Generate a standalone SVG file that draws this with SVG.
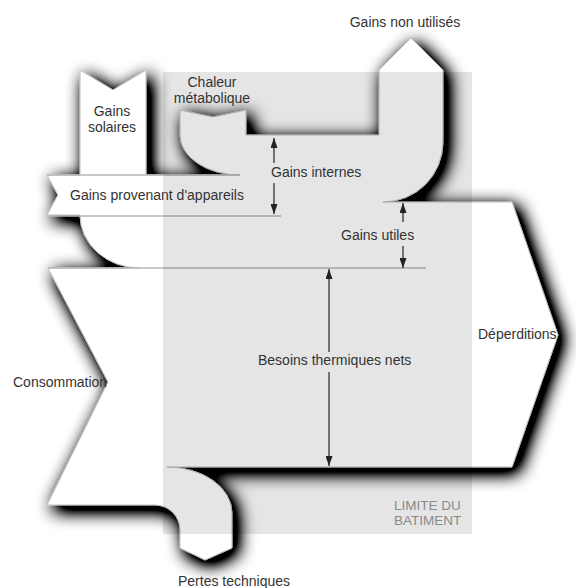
<svg xmlns="http://www.w3.org/2000/svg" width="576" height="588" viewBox="0 0 576 588">
<style>
.lbl{font-family:"Liberation Sans",Arial,sans-serif;font-size:14px;fill:#333}
.lim{font-family:"Liberation Sans",Arial,sans-serif;font-size:13.5px;fill:#8a8a8a}
.sep{stroke:#b8b8b8;stroke-width:1.3;fill:none}
.arr{stroke:#333;stroke-width:1.3;fill:none;marker-end:url(#ah)}
</style>
<defs>
<filter id="sh" x="-15%" y="-15%" width="130%" height="130%">
<feGaussianBlur in="SourceAlpha" stdDeviation="9"/>
<feOffset dx="5" dy="5" result="b"/>
<feComponentTransfer><feFuncA type="linear" slope="1.9"/></feComponentTransfer>
<feMerge><feMergeNode/><feMergeNode in="SourceGraphic"/></feMerge>
</filter>
<marker id="ah" viewBox="0 0 10 7" refX="10" refY="3.5" markerWidth="10" markerHeight="7" markerUnits="userSpaceOnUse" orient="auto">
<path d="M0,0 L10,3.5 L0,7 Z" fill="#222"/>
</marker>
</defs>
<rect width="576" height="588" fill="#fff"/>
<g id="flows">
<path filter="url(#sh)" fill="#fff" stroke="#bdbdbd" stroke-width="1" d="M80,70 L113,90 L146,70 L146,175 L240,175 A60,40 0 0 1 180,135 L180,110 L213,117 L246,110 L246,135 L379,135 L379,70 L411,38 L443,70 L443,142 A60,60 0 0 1 383,202 L512,202 L558,335 L512,467 L167,467 A65,46 0 0 1 232,513 L232,548 L205,560 L180,548 L180,530 A25,25 0 0 0 155,505 L47,505 L108,382 L48,268 L140,268 A60,53 0 0 1 80,215 L47,215 L58,195 L47,175 L80,175 Z"/>
<path class="sep" d="M47,175 H240 M47,216 H281 M48,268 H426"/>
</g>
<rect id="building" x="163" y="72" width="309" height="462" fill="#000" fill-opacity="0.1"/>
<g id="connectors">
<line class="arr" x1="274" y1="163" x2="274" y2="138"/>
<line class="arr" x1="274" y1="183" x2="274" y2="214"/>
<line class="arr" x1="403" y1="222" x2="403" y2="203"/>
<line class="arr" x1="403" y1="246" x2="403" y2="268"/>
<line class="arr" x1="329" y1="352" x2="329" y2="269"/>
<line class="arr" x1="329" y1="372" x2="329" y2="466"/>
</g>
<g id="labels">
<text class="lbl" x="405" y="27" text-anchor="middle">Gains non utilisés</text>
<text class="lbl" x="212" y="87" text-anchor="middle">Chaleur</text>
<text class="lbl" x="212" y="103" text-anchor="middle">métabolique</text>
<text class="lbl" x="112" y="116" text-anchor="middle">Gains</text>
<text class="lbl" x="112" y="132" text-anchor="middle">solaires</text>
<text class="lbl" x="70" y="200">Gains provenant d'appareils</text>
<text class="lbl" x="271" y="177">Gains internes</text>
<text class="lbl" x="341" y="240">Gains utiles</text>
<text class="lbl" x="258" y="365">Besoins thermiques nets</text>
<text class="lbl" x="478" y="339">Déperditions</text>
<text class="lbl" x="13" y="387">Consommation</text>
<text class="lbl" x="178" y="586">Pertes techniques</text>
<text class="lim" x="394" y="510">LIMITE DU</text>
<text class="lim" x="394" y="525">BATIMENT</text>
</g>
</svg>
